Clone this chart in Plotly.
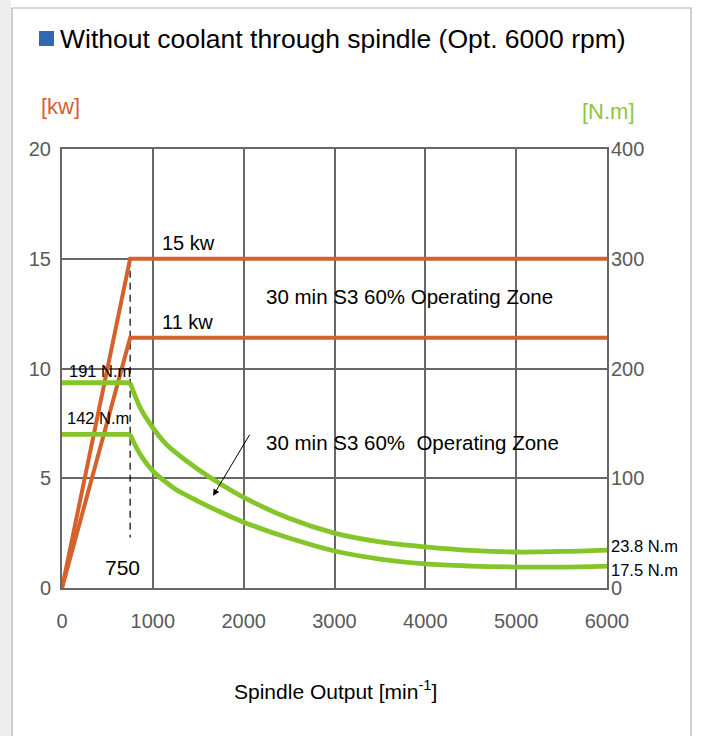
import plotly.graph_objects as go

# ---- data ----
rpm_power = [0, 750, 6000]
power_15kw = [0, 15, 15]
power_11kw = [0, 11.4, 11.4]

rpm_flat = [0, 750]
torque_upper_flat = [187, 187]
torque_lower_flat = [140, 140]

rpm_torque = [750, 800, 875, 1000, 1125, 1250, 1500, 1750, 2000, 2500, 3000, 3500, 4000, 4500, 5000, 5500, 6000]
torque_upper = [187, 176, 162, 146, 133, 123.5, 108, 94.5, 82.5, 63.5, 50, 42, 37.4, 34.2, 32.8, 33.3, 34.6]
torque_lower = [140, 131, 120, 106.6, 97.5, 90, 79, 69, 60, 45.5, 33.7, 26.4, 21.9, 20, 19.1, 19.1, 20]

base_speed = 750
dash_kw = [15, 2.3]

x_ticks = [0, 1000, 2000, 3000, 4000, 5000, 6000]
kw_ticks = [0, 5, 10, 15, 20]
nm_ticks = [0, 100, 200, 300, 400]

ORANGE = "#D5612B"
GREEN = "#84C52A"
GRID = "#676767"
TICK = "#5a5a5a"
FONT = "Liberation Sans, Arial, sans-serif"

# plot-area pixel geometry helpers (for placing decorations)
L, R, T, B = 62, 607, 149, 588
def px(x):
    return (x - L) / (R - L)
def py(y):
    return (B - y) / (B - T)

fig = go.Figure()

for xs, ys, shape in [(rpm_flat, torque_upper_flat, "linear"), (rpm_flat, torque_lower_flat, "linear"),
                      (rpm_torque, torque_upper, "spline"), (rpm_torque, torque_lower, "spline")]:
    fig.add_trace(go.Scatter(x=xs, y=ys, yaxis="y2", mode="lines",
                             line=dict(color=GREEN, width=4.8, shape=shape, smoothing=0.9),
                             hoverinfo="skip", showlegend=False))
fig.add_trace(go.Scatter(x=[base_speed, base_speed], y=dash_kw, mode="lines",
                         line=dict(color="black", width=1.2, dash="7px,5px"),
                         hoverinfo="skip", showlegend=False))
fig.add_trace(go.Scatter(x=rpm_power, y=power_15kw, mode="lines",
                         line=dict(color=ORANGE, width=4),
                         hoverinfo="skip", showlegend=False))
fig.add_trace(go.Scatter(x=rpm_power, y=power_11kw, mode="lines",
                         line=dict(color=ORANGE, width=4),
                         hoverinfo="skip", showlegend=False))

axis_common = dict(showline=True, linecolor=GRID, linewidth=2, showgrid=True,
                   gridcolor=GRID, gridwidth=2, zeroline=False, ticks="",
                   tickfont=dict(family=FONT, size=20, color=TICK))

fig.update_layout(
    width=702, height=736,
    margin=dict(l=L, r=702 - R, t=T, b=736 - B),
    paper_bgcolor="white", plot_bgcolor="white",
    font=dict(family=FONT),
    xaxis=dict(range=[0, 6000], tickvals=x_ticks, mirror=True, ticklabelstandoff=14, **axis_common),
    yaxis=dict(range=[0, 20], tickvals=kw_ticks, mirror=True, ticklabelstandoff=5, **axis_common),
    yaxis2=dict(range=[0, 400], tickvals=nm_ticks, overlaying="y", side="right",
                showline=False, showgrid=False, zeroline=False, ticks="", ticklabelstandoff=3,
                tickfont=dict(family=FONT, size=20, color=TICK)),
)

shapes = [
    # light gray strip at left
    dict(type="rect", xref="paper", yref="paper", x0=px(0), x1=px(11), y0=py(740), y1=py(0),
         fillcolor="#eeeeee", line=dict(width=0), layer="below"),
    # outer frame
    dict(type="rect", xref="paper", yref="paper", x0=px(12), x1=px(691), y0=py(760), y1=py(8),
         fillcolor="rgba(0,0,0,0)", line=dict(color="#b0b0b0", width=1.2), layer="below"),
    # blue title square
    dict(type="rect", xref="paper", yref="paper", x0=px(39), x1=px(54), y0=py(46), y1=py(31),
         fillcolor="#2F68B5", line=dict(width=0)),
]
fig.update_layout(shapes=shapes)

ann = []
def text(s, x, y, size=20, color="black", xanchor="left", xref="paper", yref="paper"):
    ann.append(dict(text=s, x=x, y=y, xref=xref, yref=yref, xanchor=xanchor, yanchor="middle",
                    showarrow=False, font=dict(family=FONT, size=size, color=color)))

text("Without coolant through spindle (Opt. 6000 rpm)", px(58), py(39), size=26.5)
text("[kw]", px(39), py(106), size=22, color=ORANGE)
text("[N.m]", px(580), py(112), size=22, color="#8DC63F")
text("Spindle Output [min<sup>-1</sup>]", px(335), py(690), size=21, xanchor="center")

text("15 kw", 1075, 15.7, xref="x", yref="y")
text("11 kw", 1075, 12.1, xref="x", yref="y")
text("30 min S3 60% Operating Zone", 3822, 13.3, size=20.5, xref="x", yref="y", xanchor="center")
text("30 min S3 60%  Operating Zone", 3855, 6.65, size=20.5, xref="x", yref="y", xanchor="center")
text("191 N.m", 420, 9.9, size=16.5, xref="x", yref="y", xanchor="center")
text("142 N.m", 400, 7.75, size=16.5, xref="x", yref="y", xanchor="center")
text("750", 670, 0.95, size=21, xref="x", yref="y", xanchor="center")
text("23.8 N.m", px(609), py(546), size=16.5)
text("17.5 N.m", px(609), py(570), size=16.5)

ann.append(dict(x=1663, y=4.2, ax=2075, ay=7.05, xref="x", yref="y", axref="x", ayref="y",
                showarrow=True, arrowhead=2, arrowsize=1.3, arrowwidth=1, arrowcolor="black", text=""))

fig.update_layout(annotations=ann)

fig.write_html("out.html", config={"displayModeBar": False},
               post_script="document.body.style.margin='0';")
